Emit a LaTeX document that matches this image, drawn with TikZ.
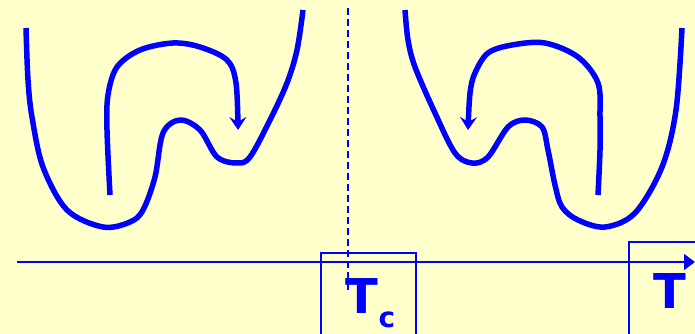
\documentclass[tikz,border=0pt]{standalone}
\usepackage{fontspec}
\setsansfont{DejaVu Sans}
\usetikzlibrary{arrows.meta}
\definecolor{bg}{HTML}{FFFFCC}
\definecolor{pblue}{HTML}{0000FF}
\begin{document}
\begin{tikzpicture}[x=1pt,y=-1pt,
  curve/.style={pblue,line width=5.5pt,line join=round},
  arr/.style={curve,-{Stealth[length=13pt,width=17pt,inset=5pt]}},
  thin/.style={pblue,line width=1.6pt},
  lbl/.style={pblue,inner sep=0pt,anchor=base,font=\sffamily\bfseries}]
\useasboundingbox (0,0) rectangle (695,334);
\clip (0,0) rectangle (695,334);
\fill[bg] (0,0) rectangle (695,334);
% left potential
\draw[curve] plot[smooth,tension=0.55] coordinates {(26,28) (28,80) (32,117) (43,167) (67,210) (103,227) (130,222) (143,210) (155,177) (163,133) (180,120) (200,130) (217,157) (237,163) (250,157) (270,120) (287,83) (297,50) (303,10)};
\draw[arr] plot[smooth,tension=0.55] coordinates {(110,195) (107,130) (108,95) (117,67) (140,50) (173,43) (200,47) (227,60) (236,83) (238,130)};
% right potential
\draw[curve] plot[smooth,tension=0.55] coordinates {(405,10) (408,40) (415,67) (435,113) (455,153) (472,163) (488,157) (508,127) (525,120) (542,127) (548,150) (555,185) (562,207) (578,220) (605,227) (635,213) (662,167) (676,110) (682,28)};
\draw[arr] plot[smooth,tension=0.55] coordinates {(598,195) (600,150) (600,117) (598,83) (578,57) (545,43) (512,45) (488,53) (475,73) (470,93) (468,130)};
% dashed line
\coordinate (dtop) at (348,8);
\coordinate (dbot) at (348,292);
\draw[thin,dash pattern=on 7pt off 4pt] (dtop) -- (dbot);
% axis
\coordinate (ax0) at (17,262);
\coordinate (ax1) at (695,262);
\draw[thin,-{Triangle[length=11pt,width=16pt]}] (ax0) -- (ax1);
% boxes
\draw[thin] (321,253) rectangle (416,345);
\draw[thin] (629,242) rectangle (705,345);
% labels
\node[lbl,font=\sffamily\bfseries\fontsize{48}{48}\selectfont] (tc) at (362,313) {T};
\node[lbl,font=\sffamily\bfseries\fontsize{28}{28}\selectfont] (c) at (387,327) {c};
\node[lbl,font=\sffamily\bfseries\fontsize{48}{48}\selectfont] (t) at (670,308) {T};
\end{tikzpicture}
\end{document}
